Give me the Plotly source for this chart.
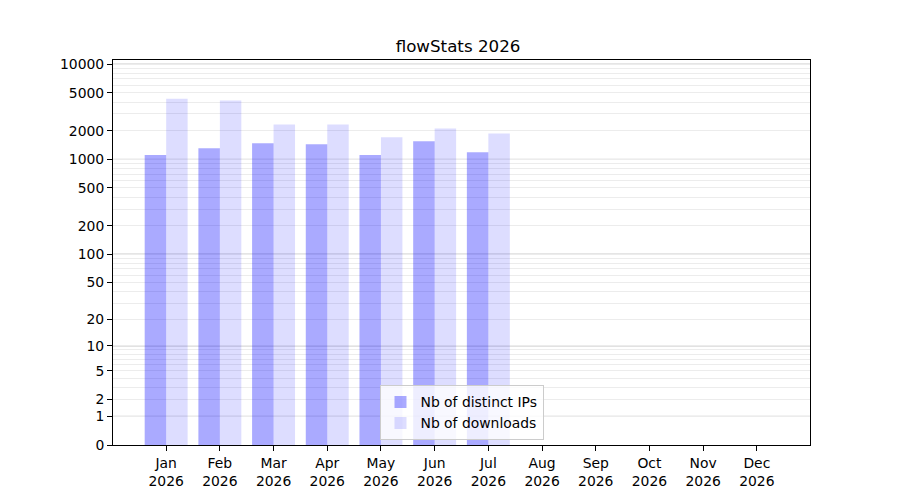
import plotly.graph_objects as go

# Monthly stats
months = ['Jan', 'Feb', 'Mar', 'Apr', 'May', 'Jun', 'Jul', 'Aug', 'Sep', 'Oct', 'Nov', 'Dec']
year = 2026
distinct_ips = [1108, 1310, 1477, 1442, 1108, 1549, 1191, 0, 0, 0, 0, 0]
downloads = [4330, 4150, 2324, 2324, 1704, 2111, 1875, 0, 0, 0, 0, 0]

# y tick labels and the grid lines of the symlog-like scale (value + 1 on a log axis)
tick_labels = [0, 1, 2, 5, 10, 20, 50, 100, 200, 500, 1000, 2000, 5000, 10000]
decades = [1, 10, 100, 1000, 10000]
minor_vals = [m * d for d in [1, 10, 100, 1000] for m in range(2, 10)]

categories = [f'{m}<br>{year}' for m in months]

fig = go.Figure()
# bars run from value 0 (=1 on the log axis) up to value + 1
fig.add_trace(go.Bar(x=categories, y=distinct_ips, base=1,
                     name='Nb of distinct IPs', marker=dict(color='rgba(0,0,255,0.333)', line_width=0)))
fig.add_trace(go.Bar(x=categories, y=downloads, base=1,
                     name='Nb of downloads', marker=dict(color='rgba(0,0,255,0.133)', line_width=0)))

# darker grid lines at each decade
for d in decades:
    fig.add_shape(type='line', xref='paper', x0=0, x1=1, yref='y', y0=d + 1, y1=d + 1,
                  line=dict(color='#b0b0b0', width=1), layer='below')

fig.update_layout(
    width=900, height=500,
    margin=dict(l=105, r=98, t=52, b=63),
    plot_bgcolor='white', paper_bgcolor='white',
    font=dict(family='DejaVu Sans', size=13.9, color='black'),
    title=dict(text='flowStats 2026', x=0.5, xanchor='center', y=0.924, yanchor='middle',
               font=dict(size=16.7)),
    barmode='group', bargap=0.2, bargroupgap=0,
    legend=dict(x=0.5, xanchor='center', y=0.012, yanchor='bottom',
                bgcolor='rgba(255,255,255,0.8)', bordercolor='#cccccc', borderwidth=1,
                font=dict(size=13.9)),
    showlegend=True,
)
fig.update_xaxes(range=[-0.99, 11.99], showline=True, linecolor='black', mirror=True,
                 ticks='outside', ticklen=5, tickcolor='black', showgrid=False)
fig.update_yaxes(type='log', range=[0, 4.044], showline=True, linecolor='black', mirror=True,
                 ticks='outside', ticklen=5, tickcolor='black',
                 tickvals=[v + 1 for v in tick_labels], ticktext=[str(v) for v in tick_labels],
                 showgrid=True, gridcolor='#ececec', gridwidth=1, zeroline=False,
                 minor=dict(tickvals=[v + 1 for v in minor_vals], showgrid=True,
                            gridcolor='#ececec', ticks=''))

fig.write_html("out.html")
